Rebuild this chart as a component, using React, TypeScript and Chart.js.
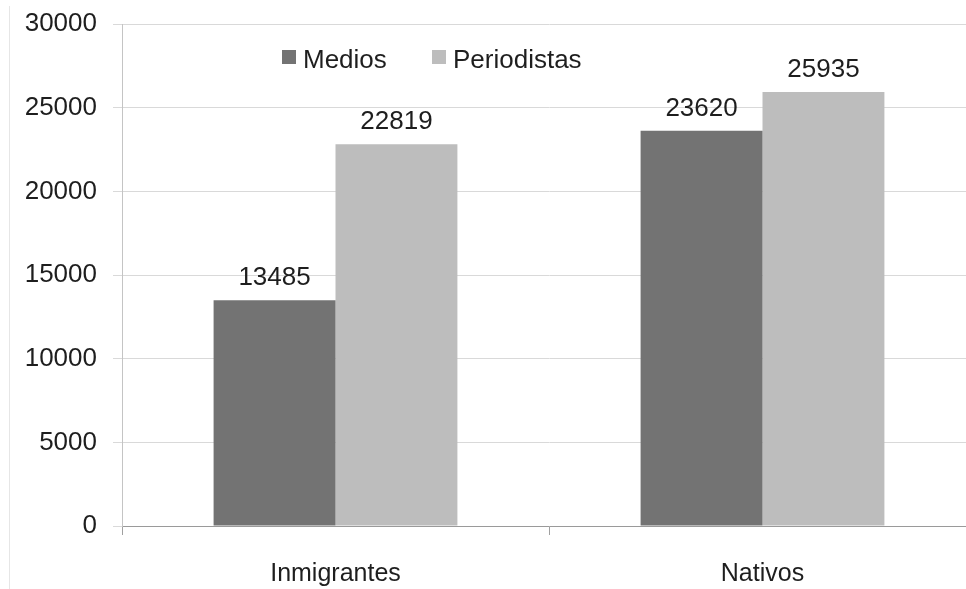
import React, { useEffect, useRef } from "react";
import { Chart, registerables } from "chart.js";

Chart.register(...registerables);

const categories = ["Inmigrantes", "Nativos"];
const seriesNames = ["Medios", "Periodistas"];
const mediosValues = [13485, 23620];
const periodistasValues = [22819, 25935];
const seriesColors = ["#737373", "#bdbdbd"];
const yTicks = [0, 5000, 10000, 15000, 20000, 25000, 30000];

const FONT = "'Liberation Sans', Arial, Helvetica, sans-serif";

const valueLabelPlugin = {
  id: "valueLabels",
  afterDatasetsDraw(chart: any) {
    const ctx = chart.ctx;
    ctx.save();
    ctx.font = `26px ${FONT}`;
    ctx.fillStyle = "#1e1e1e";
    ctx.textAlign = "center";
    ctx.textBaseline = "alphabetic";
    chart.data.datasets.forEach((ds: any, i: number) => {
      const meta = chart.getDatasetMeta(i);
      meta.data.forEach((bar: any, j: number) => {
        ctx.fillText(String(ds.data[j]), bar.x, bar.y - 15);
      });
    });
    ctx.restore();
  },
};

const legendPlugin = {
  id: "innerLegend",
  afterDraw(chart: any) {
    const ctx = chart.ctx;
    const area = chart.chartArea;
    const offsets = [160, 310];
    ctx.save();
    ctx.font = `26px ${FONT}`;
    ctx.textBaseline = "alphabetic";
    ctx.textAlign = "left";
    chart.data.datasets.forEach((ds: any, i: number) => {
      const x = area.left + offsets[i];
      const y = area.top + 26;
      ctx.fillStyle = ds.backgroundColor;
      ctx.fillRect(x, y, 14, 14);
      ctx.fillStyle = "#1e1e1e";
      ctx.fillText(ds.label, x + 21, y + 18);
    });
    ctx.restore();
  },
};

export default function App() {
  const canvasRef = useRef<HTMLCanvasElement | null>(null);

  useEffect(() => {
    if (!canvasRef.current) return;
    const chart = new Chart(canvasRef.current, {
      type: "bar",
      data: {
        labels: categories,
        datasets: [
          {
            label: seriesNames[0],
            data: mediosValues,
            backgroundColor: seriesColors[0],
            categoryPercentage: 0.571,
            barPercentage: 1,
          },
          {
            label: seriesNames[1],
            data: periodistasValues,
            backgroundColor: seriesColors[1],
            categoryPercentage: 0.571,
            barPercentage: 1,
          },
        ],
      },
      options: {
        responsive: false,
        animation: false,
        layout: { padding: { top: 24, right: 14, left: 0, bottom: 0 } },
        plugins: {
          legend: { display: false },
          tooltip: { enabled: false },
        },
        scales: {
          x: {
            offset: true,
            grid: {
              offset: true,
              drawOnChartArea: false,
              drawTicks: true,
              tickLength: 9,
              color: "#a0a0a0",
            },
            border: { display: true, color: "#9a9a9a" },
            ticks: {
              font: { family: FONT, size: 25 },
              color: "#1e1e1e",
              padding: 24,
            },
            afterFit(scale: any) {
              scale.height = 63;
            },
          },
          y: {
            min: yTicks[0],
            max: yTicks[yTicks.length - 1],
            afterBuildTicks(scale: any) {
              scale.ticks = yTicks.map((v) => ({ value: v }));
            },
            grid: {
              color: "#d9d9d9",
              tickLength: 9,
              drawTicks: true,
            },
            border: { display: true, color: "#c4c4c4" },
            ticks: {
              font: { family: FONT, size: 26 },
              color: "#1e1e1e",
              padding: 16,
              callback: (v: any) => String(v),
            },
            afterFit(scale: any) {
              scale.width = 122;
              scale.paddingTop = 0;
              scale.paddingBottom = 0;
            },
          },
        },
      },
      plugins: [valueLabelPlugin, legendPlugin],
    });
    return () => chart.destroy();
  }, []);

  return (
    <div
      style={{
        position: "fixed",
        left: 0,
        top: 0,
        width: 966,
        height: 589,
        overflow: "hidden",
        background: "#ffffff",
      }}
    >
      <div
        style={{
          position: "absolute",
          left: 9,
          top: 6,
          width: 0,
          height: 583,
          borderLeft: "1px solid #e6e6e6",
        }}
      />
      <canvas
        ref={canvasRef}
        width={990}
        height={589}
        style={{ position: "absolute", left: 0, top: 0 }}
      />
    </div>
  );
}
